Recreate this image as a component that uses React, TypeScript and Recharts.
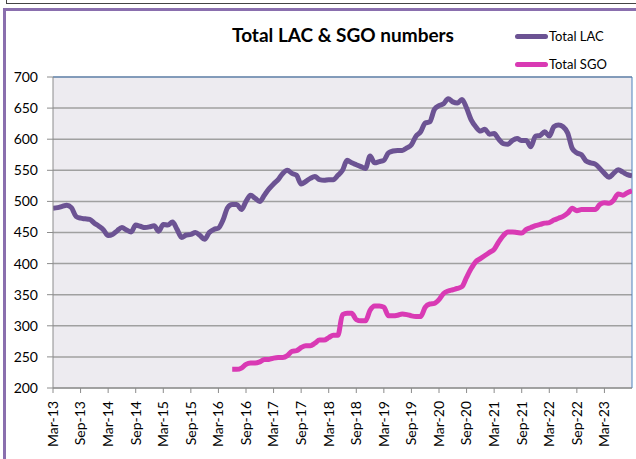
import React from 'react'
import {
  LineChart,
  Line,
  XAxis,
  YAxis,
  CartesianGrid,
  ReferenceLine,
} from 'recharts'

// tick labels every 6 months, first one is month index 0 (Mar-13)
const tickLabels = [
  'Mar-13', 'Sep-13', 'Mar-14', 'Sep-14', 'Mar-15', 'Sep-15', 'Mar-16',
  'Sep-16', 'Mar-17', 'Sep-17', 'Mar-18', 'Sep-18', 'Mar-19', 'Sep-19',
  'Mar-20', 'Sep-20', 'Mar-21', 'Sep-21', 'Mar-22', 'Sep-22', 'Mar-23',
]

const yTicks = [200, 250, 300, 350, 400, 450, 500, 550, 600, 650, 700]

// monthly values, Mar-13 .. Sep-23
const totalLac = [
  489, 490, 492, 494, 490, 476, 473, 472, 471, 465,
  460, 454, 445, 447, 453, 458, 454, 451, 462, 460,
  458, 459, 461, 452, 463, 462, 467, 455, 442, 446,
  447, 450, 445, 439, 450, 455, 457, 470, 490, 495,
  495, 487, 500, 510, 505, 500, 510, 520, 528, 535,
  545, 550, 545, 542, 528, 532, 537, 540, 535, 534,
  535, 535, 542, 550, 566, 562, 559, 556, 553, 573,
  562, 564, 566, 578, 581, 582, 582, 586, 591, 605,
  612, 626, 628, 648, 654, 657, 665, 660, 658, 664,
  650, 631, 620, 613, 616, 608, 609, 600, 593, 592,
  598, 601, 598, 598, 588, 605, 606, 612, 605, 620,
  623, 620, 610, 585, 578, 575, 565, 562, 560, 553,
  545, 539, 545, 551, 547, 543, 541,
]

// SGO starts in Jun-16 (month index 39)
const sgoStart = 39
const totalSgo = [
  230, 230, 232, 238, 240, 240, 242, 246, 246, 248,
  249, 249, 252, 259, 260, 265, 268, 268, 272, 277,
  277, 281, 285, 285, 318, 320, 320, 310, 308, 308,
  325, 332, 332, 330, 316, 316, 317, 319, 318, 316,
  315, 315, 330, 335, 336, 342, 352, 356, 358, 360,
  363, 378, 392, 403, 408, 413, 418, 423, 435, 445,
  451, 451, 450, 449, 455, 458, 461, 463, 465, 466,
  470, 473, 476, 481, 489, 485, 487, 487, 487, 487,
  495, 498, 497, 502, 512, 510, 514, 517,
]

const series = [
  { key: 'lac', name: 'Total LAC', color: '#6c5393' },
  { key: 'sgo', name: 'Total SGO', color: '#d93ab4' },
]

const datos = totalLac.map((v, i) => ({
  idx: i,
  lac: v,
  sgo: i >= sgoStart ? totalSgo[i - sgoStart] : null,
}))

const lastIdx = totalLac.length - 1
const font = 'Lato, "Open Sans", sans-serif'

const TickMes = ({ x, y, payload }: any) => {
  const label = tickLabels[Math.round(payload.value / 6)]
  return (
    <text
      x={x}
      y={y + 6}
      transform={`rotate(-90, ${x}, ${y + 6})`}
      textAnchor="end"
      dy="0.35em"
      fontSize={14}
      fontFamily={font}
      fill="#000"
    >
      {label}
    </text>
  )
}

export default function App() {
  return (
    <div
      style={{
        position: 'absolute',
        left: 0,
        top: 0,
        width: 636,
        height: 459,
        overflow: 'hidden',
        background: '#fff',
        fontFamily: font,
      }}
    >
      {/* edge of the box above */}
      <div
        style={{
          position: 'absolute',
          left: 6,
          top: -10,
          width: 640,
          height: 12,
          border: '1px solid #444',
        }}
      />
      {/* purple chart frame */}
      <div
        style={{
          position: 'absolute',
          left: 3,
          top: 8,
          width: 650,
          height: 470,
          border: '3px solid #8a6fae',
        }}
      />
      <div
        style={{
          position: 'absolute',
          left: 143,
          width: 400,
          top: 24,
          textAlign: 'center',
          fontSize: 19,
          fontWeight: 700,
          lineHeight: '22px',
        }}
      >
        Total LAC &amp; SGO numbers
      </div>
      <div style={{ position: 'absolute', left: 515, top: 22 }}>
        {series.map((s) => (
          <div key={s.key} style={{ display: 'flex', alignItems: 'center', height: 28 }}>
            <div
              style={{
                width: 33,
                height: 5,
                borderRadius: 3,
                background: s.color,
              }}
            />
            <span style={{ fontSize: 13, marginLeft: 1 }}>{s.name}</span>
          </div>
        ))}
      </div>
      <div style={{ position: 'absolute', left: 0, top: 0 }}>
        <LineChart
          width={636}
          height={459}
          data={datos}
          margin={{ top: 77, right: 4, left: 0, bottom: 0 }}
        >
          <CartesianGrid
            vertical={false}
            stroke="#a0a0a0"
            strokeWidth={1.5}
            fill="#edebf0"
            fillOpacity={1}
          />
          <XAxis
            dataKey="idx"
            type="number"
            domain={[0, lastIdx]}
            ticks={tickLabels.map((_, i) => i * 6)}
            interval={0}
            height={71}
            tickSize={5}
            tick={<TickMes />}
            stroke="#8c8c8c"
            allowDataOverflow
          />
          <YAxis
            domain={[200, 700]}
            ticks={yTicks}
            interval={0}
            width={53}
            tickSize={6}
            tickMargin={9}
            stroke="#8c8c8c"
            tick={{ fontSize: 14, fill: '#000', fontFamily: font }}
            allowDataOverflow
          />
          <ReferenceLine y={700} stroke="#4f81bd" strokeWidth={1} />
          <ReferenceLine x={lastIdx} stroke="#4f81bd" strokeWidth={1} />
          {series.map((s) => (
            <Line
              key={s.key}
              type="monotone"
              dataKey={s.key}
              name={s.name}
              stroke={s.color}
              strokeWidth={5}
              dot={false}
              connectNulls={false}
              isAnimationActive={false}
            />
          ))}
        </LineChart>
      </div>
    </div>
  )
}
